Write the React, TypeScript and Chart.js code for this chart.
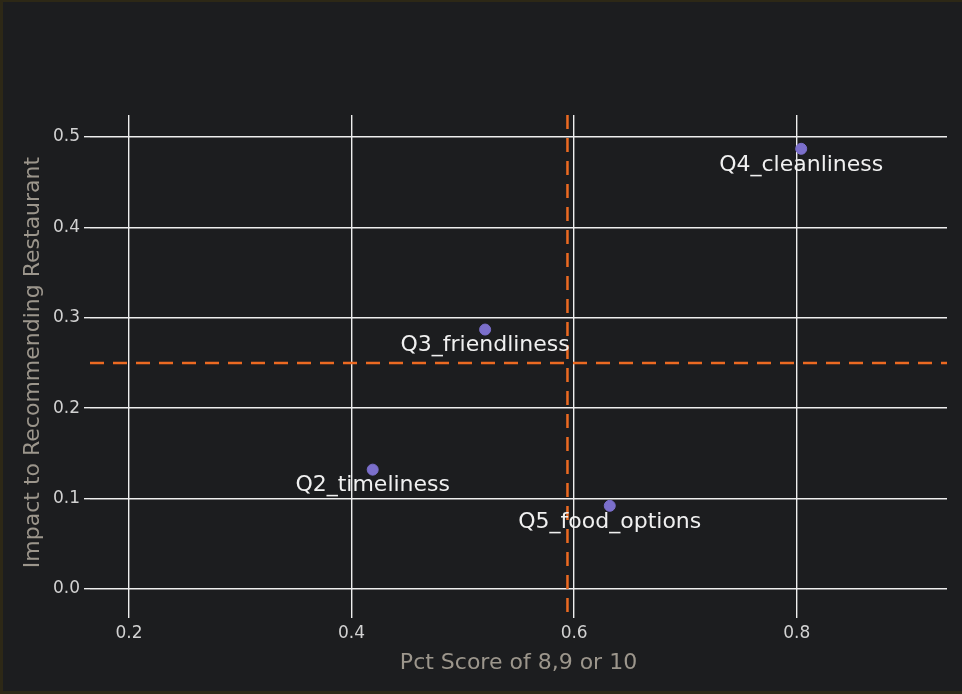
import React, { useEffect, useRef } from "react";
import { Chart, registerables } from "chart.js";

Chart.register(...registerables);

const questions = ["Q2_timeliness", "Q3_friendliness", "Q4_cleanliness", "Q5_food_options"];
const pctScore = [0.419, 0.52, 0.804, 0.632];
const impact = [0.132, 0.287, 0.487, 0.092];
const xTicks = [0.2, 0.4, 0.6, 0.8];
const yTicks = [0.0, 0.1, 0.2, 0.3, 0.4, 0.5];
const avgPct = 0.594;
const avgImpact = 0.25;

const FONT = "'DejaVu Sans', Verdana, sans-serif";

const overlayPlugin = {
  id: "overlay",
  beforeDatasetsDraw(chart: any) {
    const { ctx, chartArea, scales } = chart;
    const xs = scales.x;
    const ys = scales.y;
    ctx.save();
    ctx.strokeStyle = "#ec6a22";
    ctx.lineWidth = 2.5;
    ctx.setLineDash([14, 9]);
    const px = xs.getPixelForValue(avgPct);
    ctx.beginPath();
    ctx.moveTo(px, chartArea.top);
    ctx.lineTo(px, chartArea.bottom + 3);
    ctx.stroke();
    const py = ys.getPixelForValue(avgImpact);
    ctx.beginPath();
    ctx.moveTo(chartArea.left, py);
    ctx.lineTo(chartArea.right, py);
    ctx.stroke();
    ctx.restore();
  },
  afterDatasetsDraw(chart: any) {
    const { ctx } = chart;
    const meta = chart.getDatasetMeta(0);
    ctx.save();
    ctx.font = `22px ${FONT}`;
    ctx.fillStyle = "#f0f0f0";
    ctx.textAlign = "center";
    ctx.textBaseline = "middle";
    meta.data.forEach((pt: any, i: number) => {
      ctx.fillText(questions[i], pt.x, pt.y + 16);
    });
    ctx.restore();
  },
};

export default function App() {
  const ref = useRef<HTMLCanvasElement>(null);
  useEffect(() => {
    document.body.style.margin = "0";
    const chart = new Chart(ref.current!, {
      type: "scatter",
      data: {
        datasets: [
          {
            data: pctScore.map((x, i) => ({ x, y: impact[i] })),
            backgroundColor: "#7b6fcb",
            borderColor: "#7b6fcb",
            pointRadius: 5.5,
            pointHoverRadius: 5.5,
          },
        ],
      },
      options: {
        animation: false,
        responsive: false,
        layout: { padding: { top: 115, right: 15, left: 0, bottom: 0 } },
        plugins: { legend: { display: false }, tooltip: { enabled: false } },
        scales: {
          x: {
            type: "linear",
            min: 0.165,
            max: 0.935,
            afterBuildTicks: (s: any) => {
              s.ticks = xTicks.map((v) => ({ value: v }));
            },
            afterFit: (s: any) => {
              s.height = 84;
            },
            border: { display: false },
            grid: { color: "#eeeeee", lineWidth: 1.4, tickLength: 8, tickColor: "#eeeeee" },
            ticks: {
              color: "#d2d2d2",
              font: { family: FONT, size: 17 },
              padding: 5,
              callback: (v: any) => Number(v).toFixed(1),
            },
            title: {
              display: true,
              text: "Pct Score of 8,9 or 10",
              color: "#9c968c",
              font: { family: FONT, size: 22 },
              padding: { top: 0, bottom: 18 },
            },
          },
          y: {
            type: "linear",
            min: -0.0233,
            max: 0.5244,
            afterBuildTicks: (s: any) => {
              s.ticks = yTicks.map((v) => ({ value: v }));
            },
            afterFit: (s: any) => {
              s.width = 90;
            },
            border: { display: false },
            grid: { color: "#eeeeee", lineWidth: 1.4, tickLength: 6, tickColor: "#eeeeee" },
            ticks: {
              color: "#d2d2d2",
              font: { family: FONT, size: 17 },
              padding: 4,
              callback: (v: any) => Number(v).toFixed(1),
            },
            title: {
              display: true,
              text: "Impact to Recommending Restaurant",
              color: "#9c968c",
              font: { family: FONT, size: 22 },
              padding: { top: 20, bottom: 0 },
            },
          },
        },
      },
      plugins: [overlayPlugin],
    });
    return () => chart.destroy();
  }, []);

  return (
    <div
      style={{
        position: "fixed",
        left: 0,
        top: 0,
        width: 962,
        height: 694,
        background: "#1c1d1f",
        boxShadow: "inset 3px 2px 0 #2d2816, inset 0 -3px 0 #2b2917",
      }}
    >
      <canvas ref={ref} width={962} height={694} style={{ display: "block" }} />
    </div>
  );
}
